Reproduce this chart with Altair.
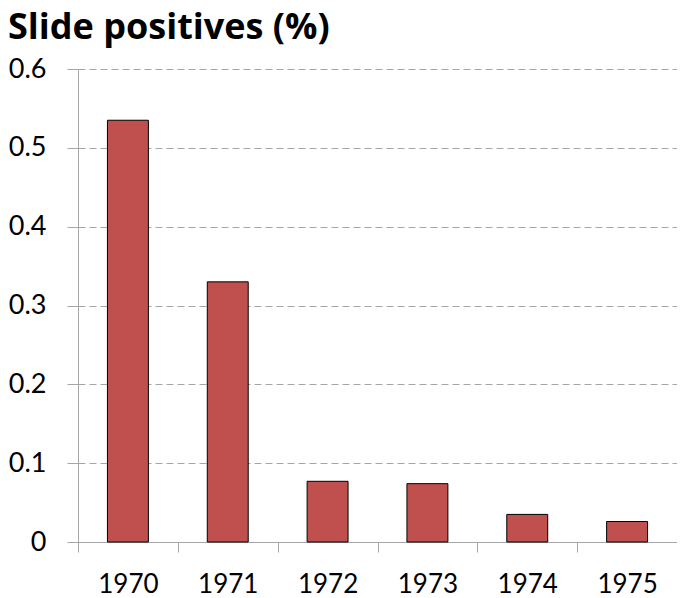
import altair as alt
import pandas as pd

years = ["1970", "1971", "1972", "1973", "1974", "1975"]
values = [0.535, 0.33, 0.077, 0.074, 0.035, 0.026]
y_ticks = [0, 0.1, 0.2, 0.3, 0.4, 0.5, 0.6]

df = pd.DataFrame({"year": years, "value": values})

FONT = "Lato"

chart = alt.Chart(df).mark_bar(
    color="#C0504D", stroke="#000000", strokeWidth=1,
    width=alt.RelativeBandSize(0.41)
).encode(
    x=alt.X("year:N", sort=years, title=None,
            scale=alt.Scale(paddingInner=0, paddingOuter=0),
            axis=alt.Axis(labelAngle=0, tickBand="extent",
                          grid=False,
                          domainColor="#A6A6A6", tickColor="#A6A6A6",
                          tickSize=10, labelPadding=19, labelFontSize=26,
                          labelFont=FONT, labelColor="#000000")),
    y=alt.Y("value:Q", title=None,
            scale=alt.Scale(domain=[0, 0.6], nice=False),
            axis=alt.Axis(values=y_ticks, format="~g", grid=True,
                          gridColor="#A6A6A6", gridDash=[7, 4],
                          domainColor="#A6A6A6", tickColor="#A6A6A6",
                          tickSize=11, labelPadding=21, labelFontSize=27,
                          labelFont=FONT, labelColor="#000000")),
).properties(
    width=599,
    height=473,
    title=alt.TitleParams("Slide positives (%)", anchor="start", frame="group",
                          font="Open Sans", fontSize=36, fontWeight="bold",
                          color="#000000", dx=-70, offset=8),
    autosize=alt.AutoSizeParams(type="none"),
    padding={"left": 70, "top": 61, "right": 0, "bottom": 62},
).configure_view(stroke=None)

chart.save("out.html", embed_options={"renderer": "svg", "actions": False})
